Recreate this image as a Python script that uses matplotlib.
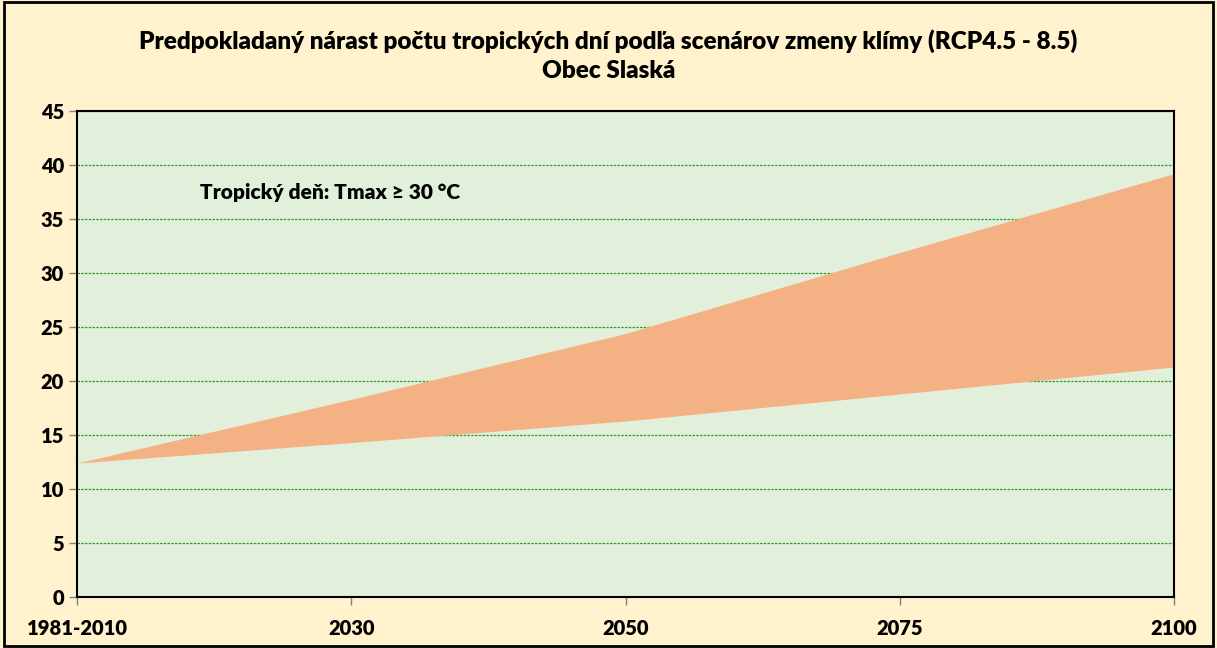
import matplotlib
matplotlib.use("Agg")
import matplotlib.pyplot as plt
from matplotlib.patches import Rectangle

periods = ["1981-2010", "2030", "2050", "2075", "2100"]
low = [12.4, 14.3, 16.3, 18.8, 21.3]
high = [12.4, 18.3, 24.4, 31.9, 39.2]

plt.rcParams["font.family"] = ["Lato", "DejaVu Sans"]
plt.rcParams["font.weight"] = "bold"

fig = plt.figure(figsize=(12.17, 6.48), dpi=100)
fig.patch.set_facecolor("#FFF2CC")
fig.patches.append(Rectangle((0.003, 0.003), 0.994, 0.994, transform=fig.transFigure,
                             fill=False, edgecolor="black", linewidth=2))

ax = fig.add_axes([0.0633, 0.0787, 0.9014, 0.75])
ax.set_facecolor("#E2EFDA")

x = list(range(len(periods)))
ax.fill_between(x, low, high, color="#F4B183", linewidth=0, zorder=2)

ax.set_xlim(0, len(periods) - 1)
ax.set_ylim(0, 45)
ax.set_yticks(range(0, 46, 5))
ax.set_xticks(x)
ax.set_xticklabels(periods)
ax.tick_params(axis="both", labelsize=14.5, length=6, width=1, color="#808080")
ax.tick_params(axis="x", pad=10)
for lbl in ax.get_xticklabels() + ax.get_yticklabels():
    lbl.set_fontweight("heavy")

ax.yaxis.grid(True, color="#2E9E2E", linestyle=(0, (2, 1)), linewidth=0.9, zorder=1)
ax.set_axisbelow(True)
for s in ax.spines.values():
    s.set_linewidth(1.5)
    s.set_color("black")

ax.text(0.45, 37.5, "Tropický deň: Tmax ≥ 30 °C", fontsize=15, fontweight="heavy",
        va="center", ha="left", zorder=3)

fig.text(0.5, 0.914, "Predpokladaný nárast počtu tropických dní podľa scenárov zmeny klímy (RCP4.5 - 8.5)\nObec Slaská",
         ha="center", va="center", fontsize=17.5, fontweight="heavy", linespacing=1.35)

fig.savefig("out.png", dpi=100, facecolor=fig.get_facecolor())
